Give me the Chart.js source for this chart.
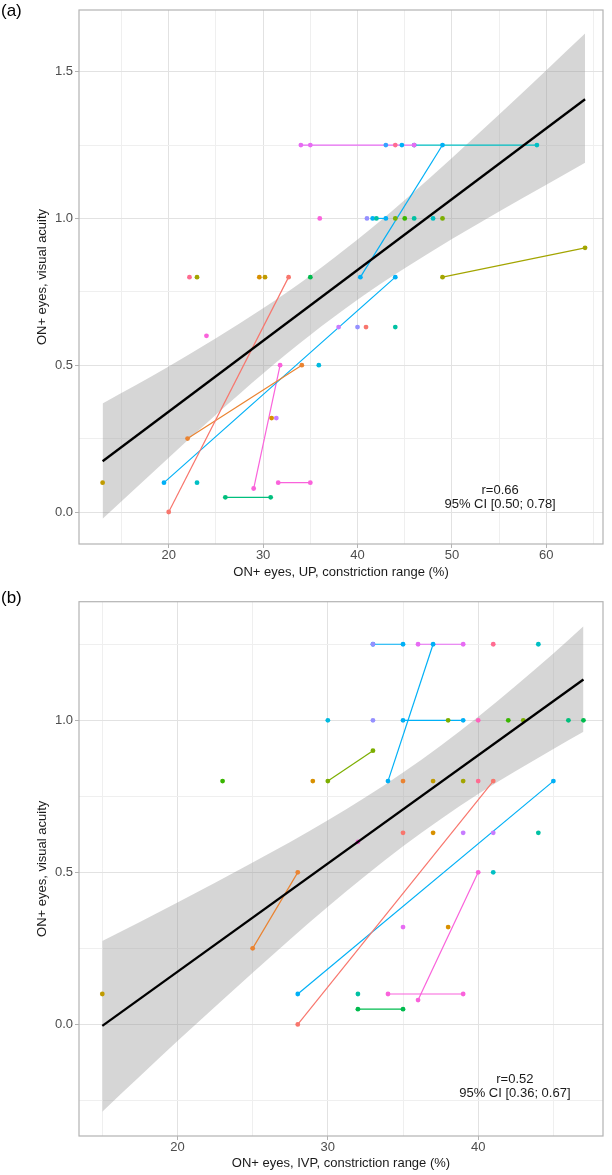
<!DOCTYPE html>
<html>
<head>
<meta charset="utf-8">
<script src="https://cdn.jsdelivr.net/npm/chart.js@4.4.1/dist/chart.umd.min.js"></script>
<style>
  html, body { margin: 0; padding: 0; background: #fff; }
  body { width: 612px; height: 1175px; position: relative; overflow: hidden; font-family: "Liberation Sans", Arial, sans-serif; }
  .panel { position: absolute; left: 0; width: 612px; }
  .tag { position: absolute; left: 1px; font-size: 17px; color: #000; }
</style>
</head>
<body>
<div class="panel" style="top:0;height:584px"><canvas id="chartA" width="612" height="584"></canvas></div>
<div class="panel" style="top:580px;height:595px"><canvas id="chartB" width="612" height="595"></canvas></div>
<div class="tag" style="top:1px">(a)</div>
<div class="tag" style="top:588px">(b)</div>
<script>
// hue palette, one colour per patient group
const PAL = ['#F8766D', '#EA8331', '#D89000', '#C09B00', '#A3A500', '#7CAE00', '#39B600', '#00BB4E',
  '#00BF7D', '#00C1A3', '#00BFC4', '#00BAE0', '#00B0F6', '#35A2FF', '#9590FF', '#C77CFF',
  '#E76BF3', '#FA62DB', '#FF62BC', '#FF6C91'];

// ---- panel (a): UP constriction range vs visual acuity ----
// paired eyes: x1, y1, x2, y2, group
const segA = [
  [20.0, 0.00, 32.7, 0.80, 0],
  [22.0, 0.25, 34.1, 0.50, 1],
  [19.5, 0.10, 44.0, 0.80, 12],
  [29.0, 0.08, 31.8, 0.50, 17],
  [31.6, 0.10, 35.0, 0.10, 17],
  [26.0, 0.05, 30.8, 0.05, 8],
  [40.3, 0.80, 49.0, 1.25, 12],
  [49.0, 0.80, 64.1, 0.90, 4],
  [34.0, 1.25, 46.0, 1.25, 16],
  [46.0, 1.25, 59.0, 1.25, 10],
  [41.6, 1.00, 43.0, 1.00, 12]
];
// single eyes: x, y, group
const ptsA = [
  [35.0, 1.25, 16], [43.0, 1.25, 13], [44.0, 1.25, 19], [44.7, 1.25, 12],
  [36.0, 1.00, 17], [41.0, 1.00, 14], [42.0, 1.00, 9], [44.0, 1.00, 5], [45.0, 1.00, 6],
  [46.0, 1.00, 9], [48.0, 1.00, 10], [49.0, 1.00, 5],
  [22.2, 0.80, 19], [23.0, 0.80, 4], [29.6, 0.80, 2], [30.2, 0.80, 3], [35.0, 0.80, 7],
  [38.0, 0.63, 15], [40.0, 0.63, 14], [40.9, 0.63, 0], [44.0, 0.63, 9],
  [24.0, 0.60, 17], [35.9, 0.50, 11], [30.9, 0.32, 2], [31.4, 0.32, 15],
  [13.0, 0.10, 3], [23.0, 0.10, 10]
];
const fitA_x = [13.0, 64.1];
const fitA_y = [0.173, 1.406];
const bandA_x = [13, 20, 25, 30, 35, 40, 45, 50, 55, 60, 64.1];
const bandA_hi = [0.370, 0.496, 0.592, 0.694, 0.805, 0.928, 1.063, 1.206, 1.354, 1.505, 1.630];
const bandA_lo = [-0.023, 0.185, 0.331, 0.472, 0.603, 0.723, 0.830, 0.930, 1.024, 1.115, 1.190];
const gridA_x = [15, 20, 25, 30, 35, 40, 45, 50, 55, 60, 65];
const ticksA_x = [20, 30, 40, 50, 60];
const gridA_y = [0, 0.25, 0.5, 0.75, 1.0, 1.25, 1.5];
const ticksA_y = [0, 0.5, 1.0, 1.5];

// ---- panel (b): IVP constriction range vs visual acuity ----
const segB = [
  [28.0, 0.00, 41.0, 0.80, 0],
  [28.0, 0.10, 45.0, 0.80, 12],
  [25.0, 0.25, 28.0, 0.50, 1],
  [36.0, 0.08, 40.0, 0.50, 17],
  [34.0, 0.10, 39.0, 0.10, 17],
  [32.0, 0.05, 35.0, 0.05, 7],
  [30.0, 0.80, 33.0, 0.90, 5],
  [34.0, 0.80, 37.0, 1.25, 12],
  [33.0, 1.25, 35.0, 1.25, 12],
  [36.0, 1.25, 39.0, 1.25, 16],
  [35.0, 1.00, 39.0, 1.00, 12]
];
const ptsB = [
  [33.0, 1.25, 14], [41.0, 1.25, 19], [44.0, 1.25, 10],
  [30.0, 1.00, 11], [33.0, 1.00, 14], [38.0, 1.00, 5], [40.0, 1.00, 18], [42.0, 1.00, 6],
  [43.0, 1.00, 5], [46.0, 1.00, 8], [47.0, 1.00, 7],
  [23.0, 0.80, 6], [29.0, 0.80, 2], [35.0, 0.80, 1], [37.0, 0.80, 3], [39.0, 0.80, 4], [40.0, 0.80, 19],
  [35.0, 0.63, 0], [37.0, 0.63, 2], [39.0, 0.63, 15], [41.0, 0.63, 15], [44.0, 0.63, 9],
  [32.0, 0.60, 17], [41.0, 0.50, 10], [35.0, 0.32, 16], [38.0, 0.32, 2],
  [15.0, 0.10, 3], [32.0, 0.10, 9]
];
const fitB_x = [15.0, 47.0];
const fitB_y = [-0.005, 1.134];
const bandB_x = [15, 20, 25, 30, 35, 40, 45, 47];
const bandB_hi = [0.274, 0.401, 0.532, 0.671, 0.828, 1.012, 1.220, 1.309];
const bandB_lo = [-0.287, -0.055, 0.170, 0.387, 0.586, 0.758, 0.906, 0.962];
const gridB_x = [15, 20, 25, 30, 35, 40, 45];
const ticksB_x = [20, 30, 40];
const gridB_y = [-0.25, 0, 0.25, 0.5, 0.75, 1.0, 1.25];
const ticksB_y = [0, 0.5, 1.0];

Chart.defaults.font.family = '"Liberation Sans", Arial, sans-serif';

// panel frame + correlation note
const frame = {
  id: 'frame',
  afterDatasetsDraw(chart, args, opts) {
    const { ctx, chartArea: a, scales } = chart;
    ctx.save();
    ctx.strokeStyle = '#B3B3B3';
    ctx.lineWidth = 1.2;
    ctx.strokeRect(a.left, a.top, a.right - a.left, a.bottom - a.top);
    ctx.fillStyle = '#1A1A1A';
    ctx.font = '13px "Liberation Sans", Arial, sans-serif';
    ctx.textAlign = 'center';
    ctx.textBaseline = 'middle';
    const px = scales.x.getPixelForValue(opts.noteX);
    const py = scales.y.getPixelForValue(opts.noteY);
    ctx.fillText(opts.note[0], px, py - 7);
    ctx.fillText(opts.note[1], px, py + 7);
    ctx.restore();
  }
};

function makePanel(id, p) {
  const datasets = [];
  // fitted line on top
  datasets.push({
    data: p.fitX.map((x, i) => ({ x, y: p.fitY[i] })),
    showLine: true, borderColor: '#000', borderWidth: 2.3, pointRadius: 0, order: 0
  });
  // single eyes above the paired segments
  datasets.push({
    data: p.pts.map(q => ({ x: q[0], y: q[1] })),
    backgroundColor: p.pts.map(q => PAL[q[2]]),
    pointRadius: 2.4, pointBorderWidth: 0, order: 1
  });
  p.segs.forEach(s => {
    datasets.push({
      data: [{ x: s[0], y: s[1] }, { x: s[2], y: s[3] }],
      showLine: true, borderColor: PAL[s[4]], backgroundColor: PAL[s[4]],
      borderWidth: 1.2, pointRadius: 2.4, pointBorderWidth: 0, order: 1
    });
  });
  // confidence band
  datasets.push({
    data: p.bandX.map((x, i) => ({ x, y: p.bandHi[i] })),
    showLine: true, borderWidth: 0, pointRadius: 0, fill: '+1',
    backgroundColor: 'rgba(153,153,153,0.4)', cubicInterpolationMode: 'monotone', order: 5
  });
  datasets.push({
    data: p.bandX.map((x, i) => ({ x, y: p.bandLo[i] })),
    showLine: true, borderWidth: 0, pointRadius: 0, fill: false,
    cubicInterpolationMode: 'monotone', order: 5
  });

  return new Chart(document.getElementById(id), {
    type: 'scatter',
    data: { datasets },
    plugins: [frame],
    options: {
      responsive: false,
      animation: false,
      events: [],
      layout: { padding: { top: p.padTop, right: 9, left: 0, bottom: 0 } },
      plugins: {
        legend: { display: false },
        tooltip: { enabled: false },
        frame: { noteX: p.noteX, noteY: p.noteY, note: p.note }
      },
      scales: {
        x: {
          type: 'linear', min: p.xMin, max: p.xMax,
          afterBuildTicks: s => { s.ticks = p.gridX.map(v => ({ value: v })); },
          afterFit: s => { s.height = p.xAxisH; },
          ticks: {
            autoSkip: false, maxRotation: 0, padding: 0, color: '#4D4D4D', font: { size: 13 },
            callback: v => p.ticksX.includes(v) ? String(v) : ''
          },
          grid: {
            color: c => p.ticksX.includes(c.tick.value) ? '#E2E2E2' : '#EFEFEF',
            tickColor: c => p.ticksX.includes(c.tick.value) ? '#B3B3B3' : 'rgba(0,0,0,0)',
            tickLength: 4, lineWidth: 1
          },
          border: { display: false },
          title: {
            display: true, text: p.xTitle, color: '#1A1A1A', font: { size: 13 },
            padding: { top: 0, bottom: p.xTitlePad }
          }
        },
        y: {
          type: 'linear', min: p.yMin, max: p.yMax,
          afterBuildTicks: s => { s.ticks = p.gridY.map(v => ({ value: v })); },
          afterFit: s => { s.width = 79; },
          ticks: {
            autoSkip: false, padding: 2, color: '#4D4D4D', font: { size: 13 },
            callback: v => p.ticksY.includes(v) ? v.toFixed(1) : ''
          },
          grid: {
            color: c => p.ticksY.includes(c.tick.value) ? '#E2E2E2' : '#EFEFEF',
            tickColor: c => p.ticksY.includes(c.tick.value) ? '#B3B3B3' : 'rgba(0,0,0,0)',
            tickLength: 4, lineWidth: 1
          },
          border: { display: false },
          title: {
            display: true, text: 'ON+ eyes, visual acuity', color: '#1A1A1A', font: { size: 13 },
            padding: { top: 35, bottom: 0 }
          }
        }
      }
    }
  });
}

makePanel('chartA', {
  segs: segA, pts: ptsA, fitX: fitA_x, fitY: fitA_y,
  bandX: bandA_x, bandHi: bandA_hi, bandLo: bandA_lo,
  gridX: gridA_x, ticksX: ticksA_x, gridY: gridA_y, ticksY: ticksA_y,
  xMin: 10.5, xMax: 66.0, yMin: -0.109, yMax: 1.71,
  padTop: 10, xAxisH: 40, xTitlePad: 3.5,
  xTitle: 'ON+ eyes, UP, constriction range (%)',
  noteX: 55.1, noteY: 0.05, note: ['r=0.66', '95% CI [0.50; 0.78]']
});

makePanel('chartB', {
  segs: segB, pts: ptsB, fitX: fitB_x, fitY: fitB_y,
  bandX: bandB_x, bandHi: bandB_hi, bandLo: bandB_lo,
  gridX: gridB_x, ticksX: ticksB_x, gridY: gridB_y, ticksY: ticksB_y,
  xMin: 13.45, xMax: 48.3, yMin: -0.367, yMax: 1.39,
  padTop: 21.7, xAxisH: 39, xTitlePad: 3.5,
  xTitle: 'ON+ eyes, IVP, constriction range (%)',
  noteX: 42.44, noteY: -0.203, note: ['r=0.52', '95% CI [0.36; 0.67]']
});
</script>
</body>
</html>
